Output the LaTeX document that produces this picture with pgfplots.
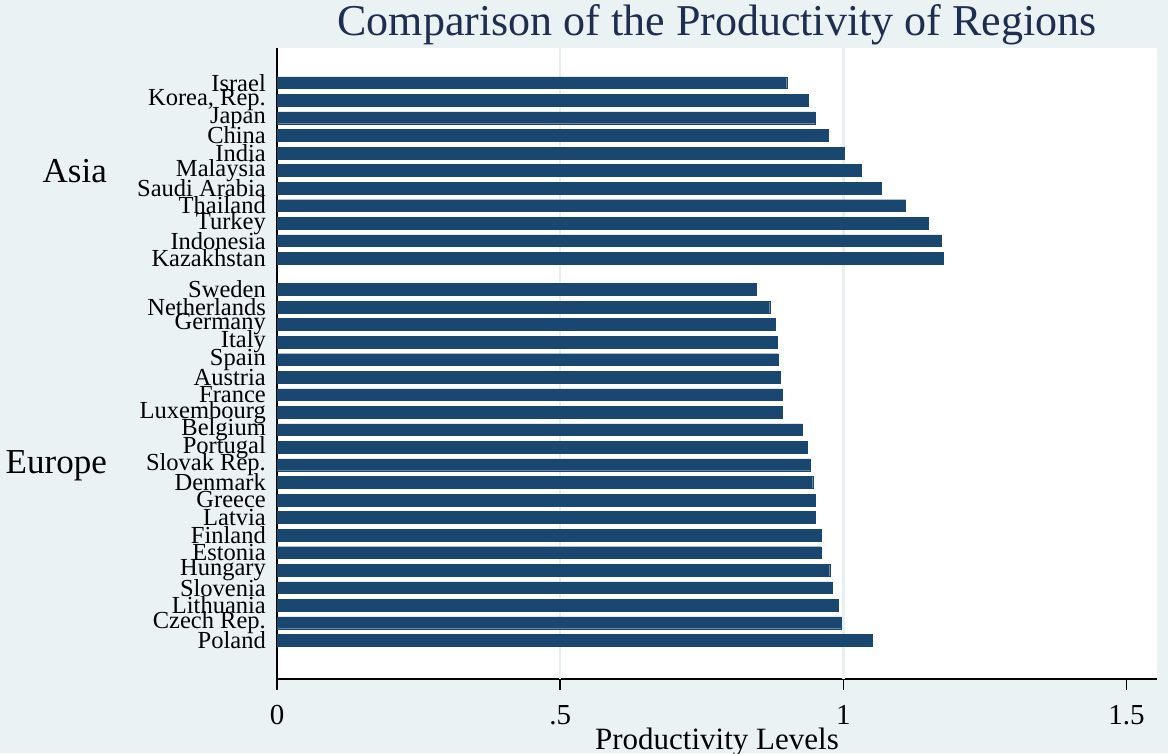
\documentclass[border=0pt]{standalone}
\usepackage{fontspec}
\setmainfont{Liberation Serif}
\usepackage{pgfplots}
\usepackage{pgfplotstable}
\pgfplotsset{compat=1.18}
\definecolor{bgc}{HTML}{EAF2F3}
\definecolor{barc}{HTML}{1A476F}
\definecolor{titlec}{HTML}{1F2D4F}
\definecolor{gridc}{HTML}{E6EFF1}

\pgfplotstableread{
pos val
0 1.051
1 0.996
2 0.991
3 0.981
4 0.976
5 0.961
6 0.961
7 0.950
8 0.950
9 0.946
10 0.941
11 0.937
12 0.928
13 0.892
14 0.892
15 0.888
16 0.885
17 0.883
18 0.880
19 0.870
20 0.847
21.77 1.176
22.77 1.173
23.77 1.150
24.77 1.110
25.77 1.067
26.77 1.032
27.77 1.001
28.77 0.973
29.77 0.950
30.77 0.938
31.77 0.900
}\prodtable

\begin{document}
\begin{tikzpicture}
\fill[bgc] (0,0) rectangle (1168pt,753pt);
\begin{axis}[
  at={(277pt,74pt)}, anchor=south west,
  scale only axis, width=880pt, height=631pt,
  xmin=0, xmax=1.554, ymin=-2.2, ymax=33.75,
  axis x line*=bottom, axis y line*=left,
  axis line style={black, line width=1.3pt, -},
  axis background/.style={fill=white},
  xbar, bar width=0.67,
  ytick={0,1,2,3,4,5,6,7,8,9,10,11,12,13,14,15,16,17,18,19,20,21.77,22.77,23.77,24.77,25.77,26.77,27.77,28.77,29.77,30.77,31.77},
  yticklabels={Poland,Czech Rep.,Lithuania,Slovenia,Hungary,Estonia,Finland,Latvia,Greece,Denmark,Slovak Rep.,Portugal,Belgium,Luxembourg,France,Austria,Spain,Italy,Germany,Netherlands,Sweden,Kazakhstan,Indonesia,Turkey,Thailand,Saudi Arabia,Malaysia,India,China,Japan,{Korea, Rep.},Israel},
  y tick style={draw=none},
  yticklabel style={font=\fontsize{24.5}{24.5}\selectfont, anchor=east, inner sep=0pt},
  xtick={0,0.5,1,1.5}, xticklabels={0,.5,1,1.5},
  tick align=outside, major tick length=11pt,
  x tick style={black, line width=1.3pt},
  xticklabel style={font=\fontsize{29}{29}\selectfont, yshift=-12pt},
  extra x ticks={0.5,1}, extra x tick labels={},
  extra x tick style={grid=major, major tick length=0pt},
  grid style={color=gridc, line width=2.5pt},
  title={Comparison of the Productivity of Regions},
  title style={font=\fontsize{44}{44}\selectfont, color=titlec, at={(0.5,1)}, anchor=base, yshift=6pt},
  xlabel={Productivity Levels},
  xlabel style={font=\fontsize{31}{31}\selectfont, at={(0.5,0)}, anchor=base, yshift=-70pt},
]
\addplot[fill=barc, draw=barc, line width=0.3pt] table[x=val,y=pos]{\prodtable};
\end{axis}
\node[anchor=east, font=\fontsize{35}{35}\selectfont, inner sep=0pt] at (107pt,582pt) {Asia};
\node[anchor=east, font=\fontsize{35}{35}\selectfont, inner sep=0pt] at (107pt,287pt) {Europe};
\pgfresetboundingbox
\path (0,0) rectangle (1168pt,753pt);
\end{tikzpicture}
\end{document}
